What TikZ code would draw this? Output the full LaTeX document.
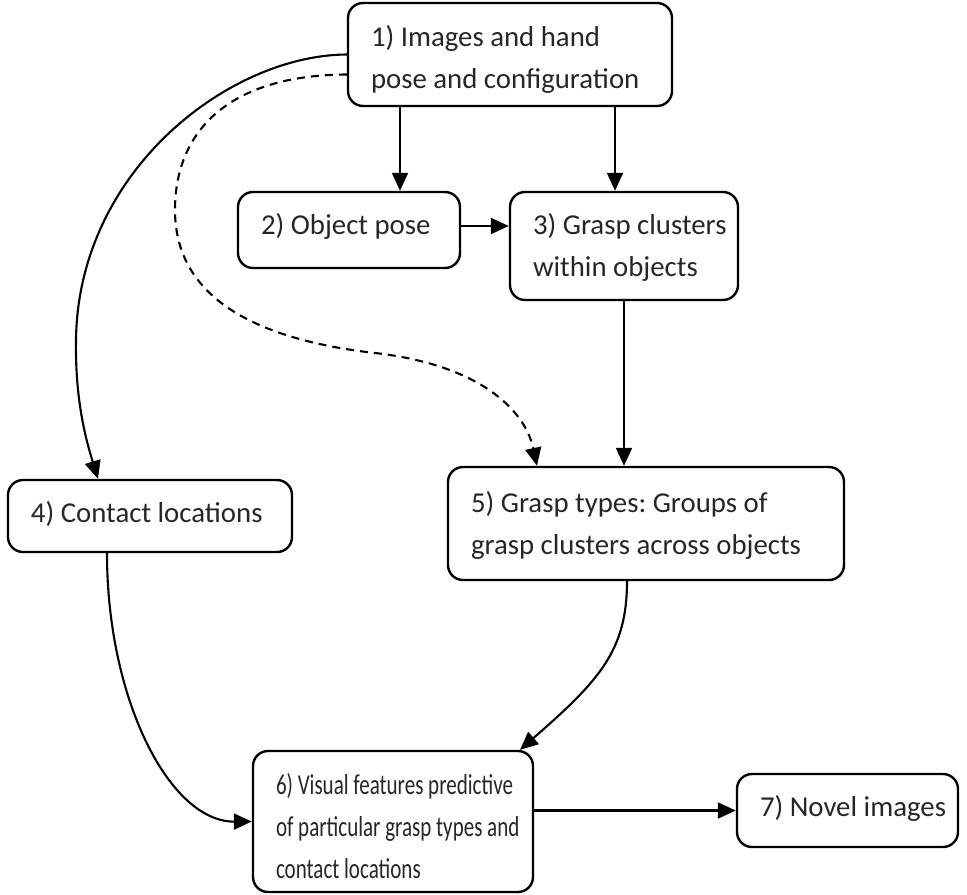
\documentclass[tikz,border=0pt]{standalone}
\usepackage{fontspec}
\setmainfont{Carlito}
\usetikzlibrary{arrows.meta,calc}
\definecolor{txt}{RGB}{38,38,38}
\tikzset{
  box/.style={draw=black, line width=2.4bp, rounded corners=15bp, rectangle, inner sep=0pt},
  lbl/.style={text=txt, inner sep=0pt, anchor=base west, font=\fontsize{28.8bp}{42bp}\selectfont\frenchspacing},
  conn/.style={line width=2.1bp, -{Triangle[length=18bp,width=16bp]}},
  dconn/.style={conn, dash pattern=on 8bp off 6bp}
}
\newcommand{\lines}[1]{\begin{tabular}[t]{@{}l@{}}#1\end{tabular}}
\begin{document}
\begin{tikzpicture}[x=1bp,y=-1bp]
\useasboundingbox (0,0) rectangle (967,895);
% boxes
\node[box, minimum width=324bp, minimum height=103bp] (b1) at (510,54.5) {};
\node[box, minimum width=222bp, minimum height=76bp]  (b2) at (349,230) {};
\node[box, minimum width=228bp, minimum height=108bp] (b3) at (624,246) {};
\node[box, minimum width=284bp, minimum height=72bp]  (b4) at (150,516) {};
\node[box, minimum width=396bp, minimum height=113bp] (b5) at (646,523.5) {};
\node[box, minimum width=280bp, minimum height=141bp] (b6) at (393,821.5) {};
\node[box, minimum width=221bp, minimum height=73bp]  (b7) at (847.5,810.5) {};
% texts
\node[lbl] (t1) at ([shift={(24bp,-45bp)}]b1.north west) {\lines{1) Images and hand\\pose and configuration}};
\node[lbl] (t2) at ([shift={(24bp,-44bp)}]b2.north west) {\lines{2) Object pose}};
\node[lbl] (t3) at ([shift={(24bp,-44bp)}]b3.north west) {\lines{3) Grasp clusters\\within objects}};
\node[lbl] (t4) at ([shift={(24bp,-44bp)}]b4.north west) {\lines{4) Contact locations}};
\node[lbl] (t5) at ([shift={(24bp,-47bp)}]b5.north west) {\lines{5) Grasp types: Groups of\\grasp clusters across objects}};
\node[lbl] (t6) at ([shift={(24bp,-45bp)}]b6.north west) {\scalebox{0.73}[1]{\lines{6) Visual features predictive\\of particular grasp types and\\contact locations}}};
\node[lbl] (t7) at ([shift={(24bp,-44bp)}]b7.north west) {\lines{7) Novel images}};
% connectors
\draw[conn] ([xshift=51bp]b2.north |- b1.south) -- ([xshift=51bp]b2.north);
\draw[conn] ([xshift=-9bp]b3.north |- b1.south) -- ([xshift=-9bp]b3.north);
\draw[conn] ([yshift=4bp]b2.east) -- ([yshift=4bp]b2.east -| b3.west);
\draw[conn] (b3.south) -- (b3.south |- b5.north);
\draw[conn] (b1.west) .. controls (230,55) and (78,170) .. (76,340)
   .. controls (75,400) and (86,440) .. ([xshift=-52bp]b4.north);
\draw[dconn] ([yshift=-20bp]b1.west) .. controls (230,75) and (175,130) .. (175,210)
   .. controls (175,300) and (260,340) .. (375,353)
   .. controls (480,365) and (525,410) .. ([xshift=-109bp]b5.north);
\draw[conn] ([xshift=-43bp]b4.south) .. controls (107,700) and (170,822) .. (b6.west);
\draw[conn] ([xshift=-19bp]b5.south) .. controls (627,650) and (600,680) .. ([xshift=127bp]b6.north);
\draw[conn] (b6.east |- b7.west) -- (b7.west);
\end{tikzpicture}
\end{document}
